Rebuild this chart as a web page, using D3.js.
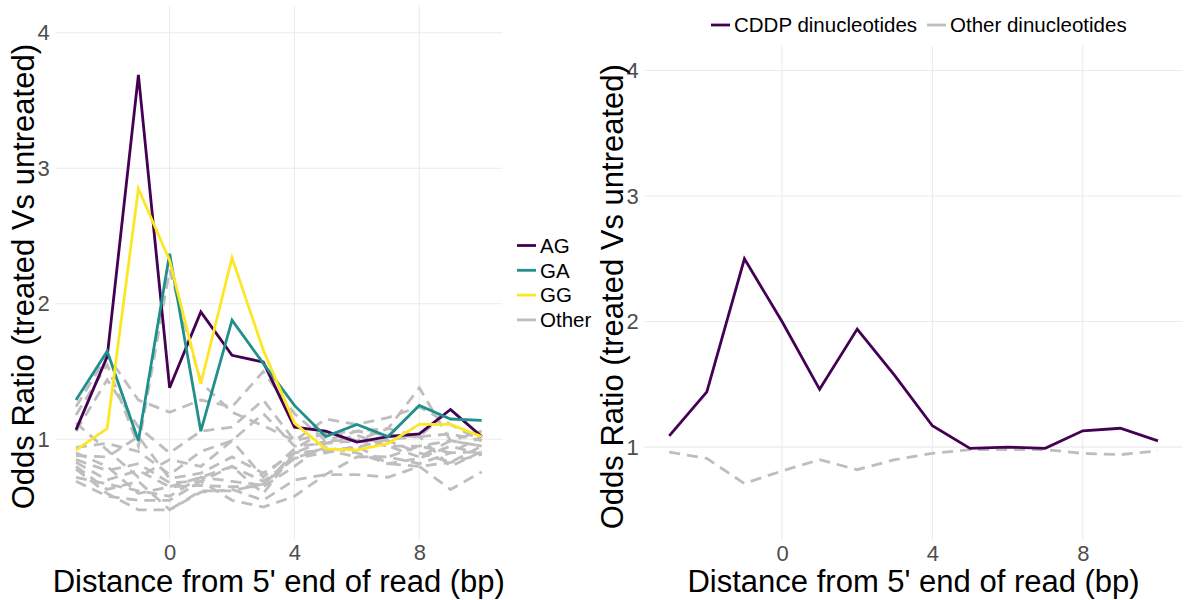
<!DOCTYPE html>
<html>
<head>
<meta charset="utf-8">
<script src="https://cdn.jsdelivr.net/npm/d3@7"></script>
<style>
  body { margin: 0; background: #fff; font-family: "Liberation Sans", Arial, sans-serif; }
  .grid line { stroke: #ebebeb; stroke-width: 1.1; }
  .tick text { fill: #4d4d4d; font-size: 22px; font-family: "Liberation Sans", Arial, sans-serif; }
</style>
</head>
<body>
<div id="chart"></div>
<script>
// positions along the read
const positions = [-3, -2, -1, 0, 1, 2, 3, 4, 5, 6, 7, 8, 9, 10];
const xTicks = [0, 4, 8];
const yTicks = [1, 2, 3, 4];

// left panel: odds ratio per dinucleotide
const agValues = [1.07, 1.61, 3.69, 1.38, 1.94, 1.62, 1.57, 1.09, 1.06, 0.98, 1.02, 1.04, 1.22, 1.02];
const gaValues = [1.29, 1.65, 0.99, 2.37, 1.06, 1.88, 1.56, 1.25, 1.02, 1.11, 1.02, 1.25, 1.15, 1.14];
const ggValues = [0.92, 1.08, 2.85, 2.32, 1.41, 2.34, 1.66, 1.12, 0.93, 0.92, 0.97, 1.11, 1.11, 1.02];
const otherValues = [
  [1.18, 1.55, 0.95, 2.25, 1.42, 1.20, 1.10, 0.99, 1.04, 1.06, 1.03, 1.02, 1.22, 1.02],
  [1.24, 1.62, 1.29, 1.20, 1.29, 1.24, 1.50, 1.19, 0.99, 0.99, 1.08, 1.38, 0.99, 1.06],
  [1.06, 1.44, 1.09, 0.90, 1.06, 1.09, 1.29, 0.99, 1.15, 1.11, 1.16, 1.24, 1.11, 0.99],
  [0.94, 0.97, 0.91, 0.74, 0.91, 0.99, 1.19, 0.95, 0.97, 0.99, 0.95, 0.95, 0.99, 0.95],
  [0.88, 0.87, 1.02, 0.71, 0.75, 0.87, 0.75, 0.90, 0.92, 0.87, 0.87, 0.82, 0.90, 0.91],
  [0.85, 0.77, 0.82, 0.68, 0.69, 0.80, 0.69, 0.86, 0.90, 0.95, 0.82, 0.80, 0.83, 0.89],
  [0.83, 0.70, 0.77, 0.65, 0.66, 0.65, 0.65, 0.80, 0.97, 1.03, 0.95, 0.87, 0.99, 0.95],
  [0.80, 0.63, 0.69, 0.48, 0.61, 0.63, 0.55, 0.70, 0.74, 0.74, 0.72, 0.80, 0.63, 0.76],
  [0.69, 0.58, 0.55, 0.55, 0.69, 0.55, 0.50, 0.58, 0.74, 0.87, 0.87, 0.95, 0.90, 1.02],
  [0.78, 0.60, 0.48, 0.48, 0.62, 0.62, 0.67, 0.86, 0.94, 0.90, 0.82, 0.86, 0.95, 0.89],
  [0.90, 0.80, 0.60, 0.65, 0.72, 0.80, 0.60, 0.90, 0.99, 1.06, 1.08, 1.02, 1.04, 0.99],
  [1.12, 0.92, 0.72, 0.85, 0.80, 0.99, 0.72, 0.93, 1.06, 0.99, 0.99, 0.90, 0.83, 0.95],
  [0.72, 0.67, 0.62, 0.58, 0.72, 0.69, 0.66, 0.90, 0.92, 0.94, 1.00, 1.02, 0.80, 0.91]
];

// right panel: pooled odds ratio
const cddpValues = [1.09, 1.44, 2.50, 2.00, 1.46, 1.94, 1.57, 1.17, 0.99, 1.00, 0.99, 1.13, 1.15, 1.05];
const pooledOtherValues = [0.96, 0.91, 0.71, 0.81, 0.90, 0.82, 0.90, 0.95, 0.98, 0.98, 0.98, 0.95, 0.94, 0.97];

const leftLegend = ["AG", "GA", "GG", "Other"];
const rightLegend = ["CDDP dinucleotides", "Other dinucleotides"];

const colors = { AG: "#440154", GA: "#21908C", GG: "#FDE725", Other: "#BEBEBE" };

const W = 1189, H = 600;
const svg = d3.select("#chart").append("svg").attr("width", W).attr("height", H);

const xDomain = [-3.65, 10.65];
const yDomain = [0.26, 4.2];

function panel(box) {
  const x = d3.scaleLinear().domain(xDomain).range([box.left, box.right]);
  const y = d3.scaleLinear().domain(yDomain).range([box.bottom, box.top]);
  const g = svg.append("g");

  const grid = g.append("g").attr("class", "grid");
  grid.selectAll(".gx").data(xTicks).join("line")
    .attr("x1", d => x(d)).attr("x2", d => x(d))
    .attr("y1", box.top).attr("y2", box.bottom);
  grid.selectAll(".gy").data(yTicks).join("line")
    .attr("y1", d => y(d)).attr("y2", d => y(d))
    .attr("x1", box.left).attr("x2", box.right);

  g.append("g")
    .attr("transform", `translate(0,${box.bottom})`)
    .call(d3.axisBottom(x).tickValues(xTicks).tickFormat(d3.format("d")).tickSize(0).tickPadding(5))
    .call(a => a.select(".domain").remove());
  g.append("g")
    .attr("transform", `translate(${box.left},0)`)
    .call(d3.axisLeft(y).tickValues(yTicks).tickFormat(d3.format("d")).tickSize(0).tickPadding(6))
    .call(a => a.select(".domain").remove());

  g.append("text")
    .attr("x", (box.left + box.right) / 2).attr("y", 592)
    .attr("text-anchor", "middle")
    .attr("font-size", 31).attr("fill", "#000")
    .text("Distance from 5' end of read (bp)");
  g.append("text")
    .attr("transform", `translate(${box.titleX},${(box.top + box.bottom) / 2 + 4}) rotate(-90)`)
    .attr("text-anchor", "middle")
    .attr("font-size", 31).attr("fill", "#000")
    .text("Odds Ratio (treated Vs untreated)");

  const line = d3.line().x((d, i) => x(positions[i])).y(d => y(d));
  return { x, y, g, line };
}

// left panel
const L = panel({ left: 55.7, right: 502, top: 5.7, bottom: 539.6, titleX: 34 });
L.g.selectAll(".other").data(otherValues).join("path")
  .attr("fill", "none").attr("stroke", colors.Other).attr("stroke-width", 2.8)
  .attr("stroke-dasharray", "11,7")
  .attr("d", L.line);
[["AG", agValues], ["GA", gaValues], ["GG", ggValues]].forEach(([k, v]) => {
  L.g.append("path").datum(v)
    .attr("fill", "none").attr("stroke", colors[k]).attr("stroke-width", 2.8)
    .attr("d", L.line);
});

// left legend
const lg = svg.append("g").attr("transform", "translate(517,245.5)");
leftLegend.forEach((k, i) => {
  const row = lg.append("g").attr("transform", `translate(0,${i * 24.8})`);
  row.append("line").attr("x1", 0).attr("x2", 19).attr("stroke", colors[k]).attr("stroke-width", 2.8);
  row.append("text").attr("x", 23).attr("dy", "0.36em").attr("font-size", 20.5).text(k);
});

// right panel
const R = panel({ left: 644.8, right: 1182.4, top: 45.4, bottom: 540, titleX: 623 });
R.g.append("path").datum(pooledOtherValues)
  .attr("fill", "none").attr("stroke", colors.Other).attr("stroke-width", 2.8)
  .attr("stroke-dasharray", "11,7").attr("d", R.line);
R.g.append("path").datum(cddpValues)
  .attr("fill", "none").attr("stroke", colors.AG).attr("stroke-width", 2.8)
  .attr("d", R.line);

// right legend
const rg = svg.append("g").attr("transform", "translate(711,25)");
const rightKeyX = [0, 216];
rightLegend.forEach((k, i) => {
  const row = rg.append("g").attr("transform", `translate(${rightKeyX[i]},0)`);
  row.append("line").attr("x1", 0).attr("x2", 19)
    .attr("stroke", i === 0 ? colors.AG : colors.Other).attr("stroke-width", 2.8);
  row.append("text").attr("x", 23).attr("dy", "0.36em").attr("font-size", 20.5).text(k);
});
</script>
</body>
</html>
